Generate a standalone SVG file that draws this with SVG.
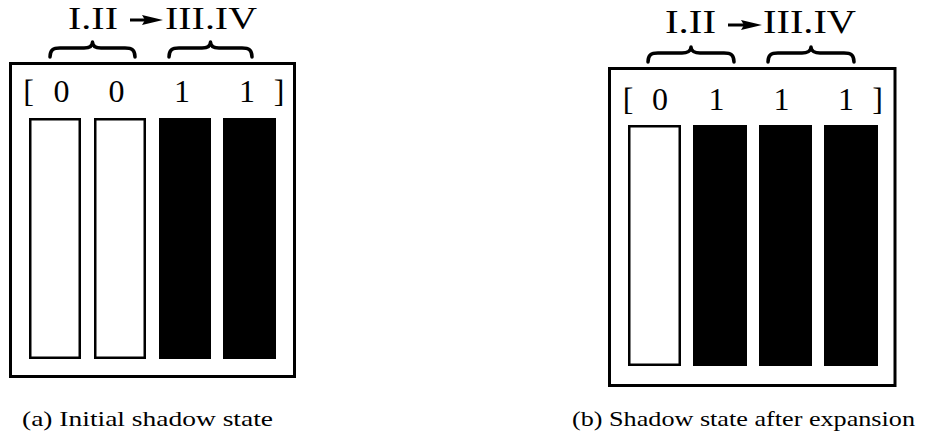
<svg xmlns="http://www.w3.org/2000/svg" width="928" height="439" viewBox="0 0 928 439">
<style>
.frame{fill:#fff;stroke:#000;stroke-width:3}
.off{fill:#fff;stroke:#000;stroke-width:2.5}
.on{fill:#000;stroke:#000;stroke-width:1}
.brace{fill:none;stroke:#000;stroke-width:3.5;stroke-linecap:round;stroke-linejoin:round}
.lbl{font-family:"Liberation Serif","Times New Roman",serif;font-size:34px;fill:#000}
.lbl-a{font-size:32px}
.dig{font-family:"Liberation Serif","Times New Roman",serif;font-size:32px;fill:#000;text-anchor:middle}
.cap{font-family:"Liberation Serif","Times New Roman",serif;font-size:22px;fill:#000}
.shaft{stroke:#000;stroke-width:3}
</style>
<rect width="928" height="439" fill="#fff"/>
<g id="state-a">
  <g id="title-a">
    <text class="lbl lbl-a" x="68" y="29" textLength="50" lengthAdjust="spacingAndGlyphs">I.II</text>
    <line class="shaft" x1="130" y1="20" x2="146" y2="20"/>
    <polygon points="142,15 163,20 142,25 145,20" fill="#000"/>
    <text class="lbl lbl-a" x="165" y="29" textLength="92" lengthAdjust="spacingAndGlyphs">III.IV</text>
    <path class="brace" d="M50,57 C50,50 53,48 60,48 L84,48 C89,48 92.5,46 92.5,42 C92.5,46 96,48 101,48 L125,48 C132,48 135,50 135,57"/>
    <path class="brace" d="M169,57 C169,50 172,48 179,48 L202,48 C207,48 210.5,46 210.5,42 C210.5,46 214,48 219,48 L242,48 C249,48 252,50 252,57"/>
  </g>
  <rect class="frame" x="10.5" y="63.5" width="284" height="313"/>
  <text class="dig" x="28.5" y="102">[</text>
  <text class="dig" x="61.5" y="102">0</text>
  <text class="dig" x="116.5" y="102">0</text>
  <text class="dig" x="182" y="102">1</text>
  <text class="dig" x="247" y="102">1</text>
  <text class="dig" x="279" y="102">]</text>
  <rect class="off" x="30.25" y="119.25" width="49.5" height="238.5"/>
  <rect class="off" x="95.25" y="119.25" width="49.5" height="238.5"/>
  <rect class="on" x="159.5" y="118.5" width="51" height="240"/>
  <rect class="on" x="223.5" y="118.5" width="52" height="240"/>
  <text class="cap" x="22" y="426" textLength="251" lengthAdjust="spacingAndGlyphs">(a) Initial shadow state</text>
</g>
<g id="state-b">
  <g id="title-b">
    <text class="lbl" x="665" y="33" textLength="51" lengthAdjust="spacingAndGlyphs">I.II</text>
    <line class="shaft" x1="728" y1="25" x2="745" y2="25"/>
    <polygon points="741,20 762,25 741,30 744,25" fill="#000"/>
    <text class="lbl" x="763" y="33" textLength="93" lengthAdjust="spacingAndGlyphs">III.IV</text>
    <path class="brace" d="M648,62 C648,55 651,53 658,53 L682,53 C687,53 691,51 691,47 C691,51 695,53 700,53 L724,53 C731,53 734,55 734,62"/>
    <path class="brace" d="M768,62 C768,55 771,53 778,53 L802,53 C807,53 811,51 811,47 C811,51 815,53 820,53 L844,53 C851,53 854,55 854,62"/>
  </g>
  <rect class="frame" x="609.5" y="68.5" width="285.5" height="317"/>
  <text class="dig" x="628" y="110">[</text>
  <text class="dig" x="660" y="110">0</text>
  <text class="dig" x="716.5" y="110">1</text>
  <text class="dig" x="781.5" y="110">1</text>
  <text class="dig" x="846" y="110">1</text>
  <text class="dig" x="877.5" y="110">]</text>
  <rect class="off" x="629.25" y="126.25" width="50.5" height="238.5"/>
  <rect class="on" x="693.5" y="125.5" width="53" height="240"/>
  <rect class="on" x="759.5" y="125.5" width="52" height="240"/>
  <rect class="on" x="824.5" y="125.5" width="53" height="240"/>
  <text class="cap" x="572" y="426" textLength="343" lengthAdjust="spacingAndGlyphs">(b) Shadow state after expansion</text>
</g>
<g id="connectors"/>
</svg>
